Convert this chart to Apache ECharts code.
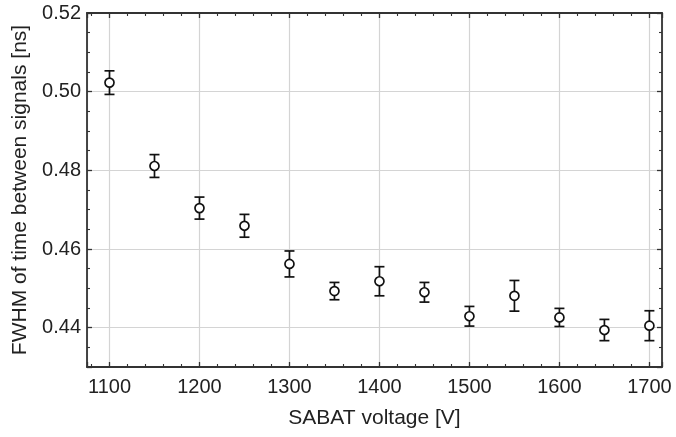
<!DOCTYPE html>
<html>
<head>
<meta charset="utf-8">
<script src="https://cdn.jsdelivr.net/npm/echarts@6/dist/echarts.min.js"></script>
<style>
html,body{margin:0;padding:0;background:#fff;}
#chart{width:676px;height:437px;}
</style>
</head>
<body>
<div id="chart"></div>
<script>
const voltages = [1100, 1150, 1200, 1250, 1300, 1350, 1400, 1450, 1500, 1550, 1600, 1650, 1700];
const fwhm = [0.5023, 0.4811, 0.4704, 0.4659, 0.4562, 0.4493, 0.4518, 0.4490, 0.4429, 0.4481, 0.4426, 0.4394, 0.4405];
const fwhmErr = [0.0030, 0.0029, 0.0028, 0.0029, 0.0033, 0.0022, 0.0037, 0.0025, 0.0025, 0.0039, 0.0023, 0.0027, 0.0038];
const xTitle = 'SABAT voltage [V]';
const yTitle = 'FWHM of time between signals [ns]';

const FONT = '"Liberation Sans", Arial, Helvetica, sans-serif';
const TXT = '#222';
const FRAME = '#333';

const pts = voltages.map((v, i) => [v, fwhm[i]]);
const errData = voltages.map((v, i) => [v, fwhm[i] - fwhmErr[i], fwhm[i] + fwhmErr[i]]);

const chart = echarts.init(document.getElementById('chart'), null, {renderer: 'canvas'});

const xBase = {
  type: 'value', min: 1075, max: 1714, splitNumber: 5,
  axisLine: {show: true, onZero: false, lineStyle: {color: FRAME, width: 1.8}},
  axisTick: {show: true, inside: true, length: 5, lineStyle: {color: FRAME, width: 1.3}},
  minorTick: {show: true, splitNumber: 5, length: 3, lineStyle: {color: FRAME, width: 1.1}},
  minorSplitLine: {show: false}
};
const yBase = {
  type: 'value', min: 0.43, max: 0.52, splitNumber: 5,
  axisLine: {show: true, onZero: false, lineStyle: {color: FRAME, width: 1.8}},
  axisTick: {show: true, inside: true, length: 5, lineStyle: {color: FRAME, width: 1.3}},
  minorTick: {show: true, splitNumber: 4, length: 3, lineStyle: {color: FRAME, width: 1.1}},
  minorSplitLine: {show: false}
};

chart.setOption({
  animation: false,
  backgroundColor: '#fff',
  grid: {left: 87, right: 14, top: 13, bottom: 70, containLabel: false},
  xAxis: [
    Object.assign({}, xBase, {
      position: 'bottom',
      name: xTitle, nameLocation: 'middle', nameGap: 41,
      nameTextStyle: {fontFamily: FONT, fontSize: 21, color: TXT},
      axisLabel: {show: true, fontFamily: FONT, fontSize: 20, color: TXT, margin: 10,
        showMinLabel: false, showMaxLabel: false, formatter: v => String(v)},
      splitLine: {show: true, lineStyle: {color: '#d4d4d4', width: 1.2}}
    }),
    Object.assign({}, xBase, {
      position: 'top',
      axisLabel: {show: false},
      splitLine: {show: false}
    })
  ],
  yAxis: [
    Object.assign({}, yBase, {
      position: 'left',
      name: yTitle, nameLocation: 'middle', nameGap: 54, nameRotate: 90,
      nameTextStyle: {fontFamily: FONT, fontSize: 21, color: TXT},
      axisLabel: {show: true, fontFamily: FONT, fontSize: 20, color: TXT, margin: 6, showMinLabel: false,
        formatter: v => v.toFixed(2)},
      splitLine: {show: true, lineStyle: {color: '#d4d4d4', width: 1.2}}
    }),
    Object.assign({}, yBase, {
      position: 'right',
      axisLabel: {show: false},
      splitLine: {show: false}
    })
  ],
  series: [
    {
      type: 'custom',
      xAxisIndex: 0, yAxisIndex: 0,
      data: errData,
      z: 3,
      renderItem: function (params, api) {
        const x = api.value(0);
        const lo = api.coord([x, api.value(1)]);
        const hi = api.coord([x, api.value(2)]);
        const hw = 5;
        const style = {stroke: '#111', lineWidth: 1.7, fill: null};
        return {
          type: 'group',
          children: [
            {type: 'line', shape: {x1: lo[0], y1: lo[1], x2: hi[0], y2: hi[1]}, style: style},
            {type: 'line', shape: {x1: lo[0] - hw, y1: lo[1], x2: lo[0] + hw, y2: lo[1]}, style: style},
            {type: 'line', shape: {x1: hi[0] - hw, y1: hi[1], x2: hi[0] + hw, y2: hi[1]}, style: style}
          ]
        };
      }
    },
    {
      type: 'scatter',
      xAxisIndex: 0, yAxisIndex: 0,
      data: pts,
      z: 5,
      symbol: 'circle',
      symbolSize: 9,
      itemStyle: {color: '#fff', borderColor: '#111', borderWidth: 1.7, opacity: 1}
    }
  ]
});
</script>
</body>
</html>
